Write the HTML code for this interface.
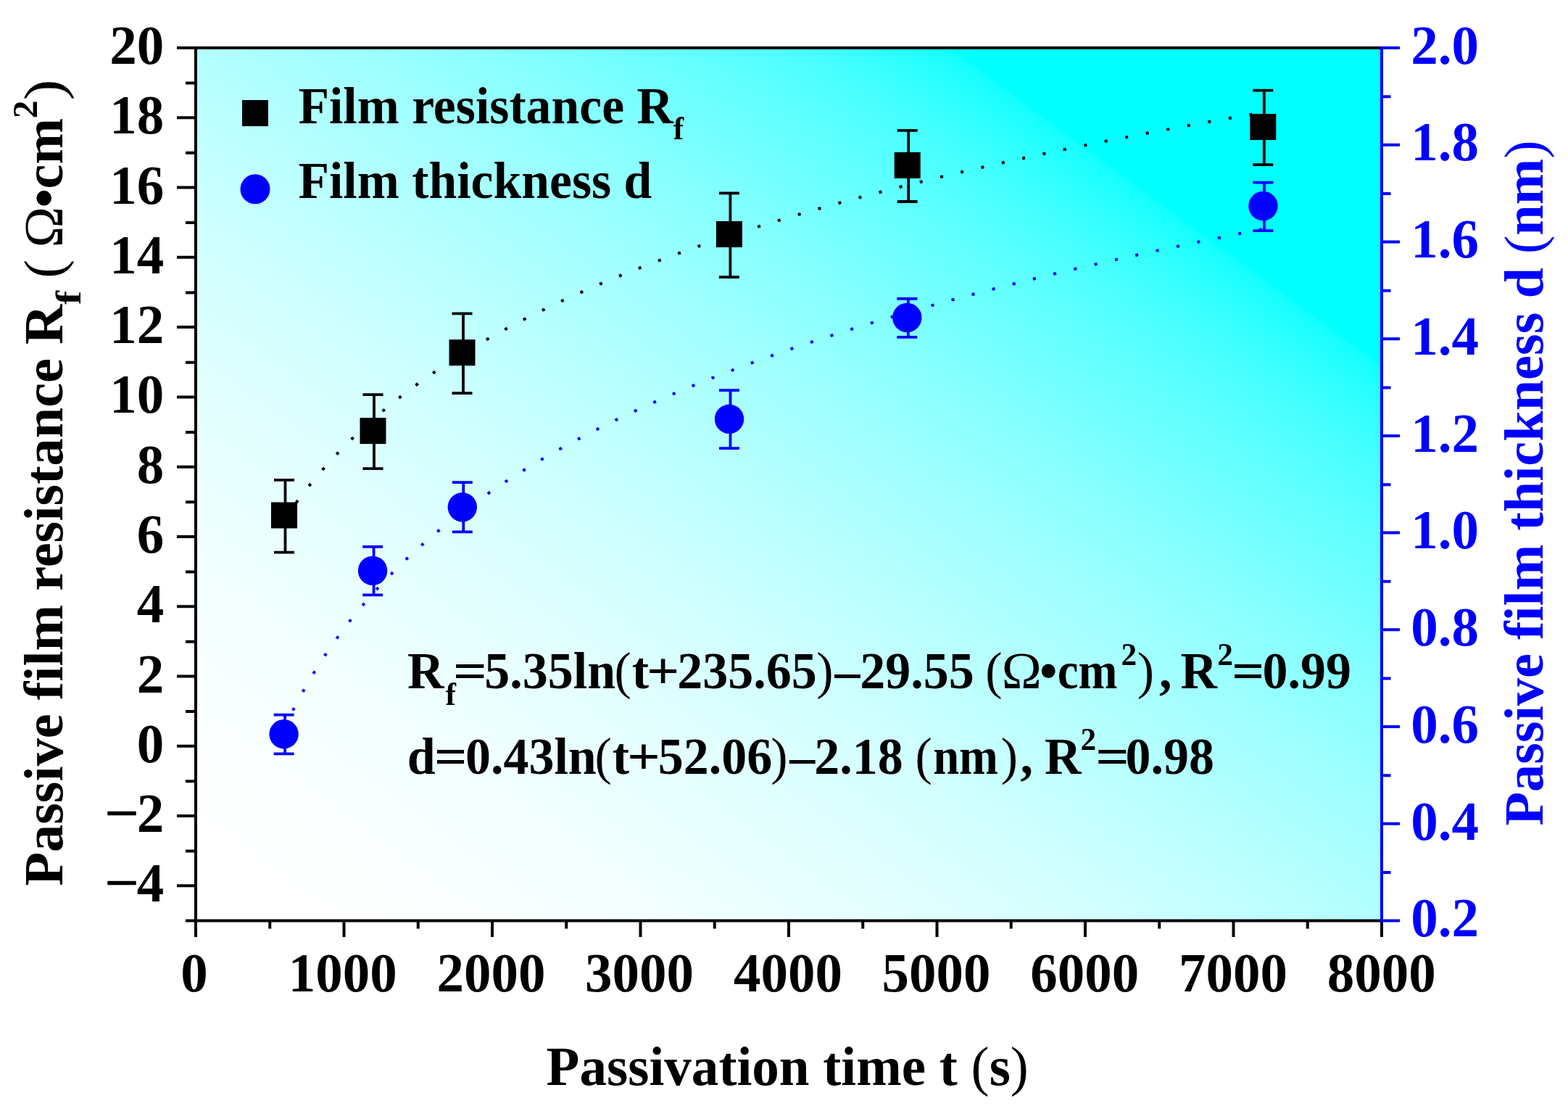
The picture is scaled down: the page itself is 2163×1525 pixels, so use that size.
<!DOCTYPE html>
<html lang="en"><head><meta charset="utf-8"><title>Passive film resistance and thickness vs passivation time</title>
<style>html,body{margin:0;padding:0;background:#fff}body{width:2163px;height:1525px;overflow:hidden}svg{display:block}text{font-family:'Liberation Serif',serif;font-weight:bold}</style>
</head><body>
<svg width="2163" height="1525" viewBox="0 0 2163 1525" role="img" aria-label="Passive film resistance and thickness versus passivation time">
<defs><linearGradient id="bg" gradientUnits="userSpaceOnUse" x1="513.54" y1="1448.66" x2="1662.46" y2="-113.16">
<stop offset="0.0000" stop-color="rgb(255,255,255)"/>
<stop offset="0.0400" stop-color="rgb(255,255,255)"/>
<stop offset="0.1000" stop-color="rgb(252,255,255)"/>
<stop offset="0.1410" stop-color="rgb(248,255,255)"/>
<stop offset="0.2000" stop-color="rgb(242,255,255)"/>
<stop offset="0.2640" stop-color="rgb(233,255,255)"/>
<stop offset="0.3200" stop-color="rgb(224,255,255)"/>
<stop offset="0.3860" stop-color="rgb(210,255,255)"/>
<stop offset="0.4500" stop-color="rgb(193,255,255)"/>
<stop offset="0.5040" stop-color="rgb(178,255,255)"/>
<stop offset="0.5600" stop-color="rgb(160,255,255)"/>
<stop offset="0.6250" stop-color="rgb(136,255,255)"/>
<stop offset="0.6740" stop-color="rgb(114,255,255)"/>
<stop offset="0.7225" stop-color="rgb(91,255,255)"/>
<stop offset="0.7635" stop-color="rgb(68,255,255)"/>
<stop offset="0.7780" stop-color="rgb(56,255,255)"/>
<stop offset="0.7970" stop-color="rgb(40,255,255)"/>
<stop offset="0.8090" stop-color="rgb(28,255,255)"/>
<stop offset="0.8165" stop-color="rgb(18,255,255)"/>
<stop offset="0.8185" stop-color="rgb(0,255,255)"/>
<stop offset="1.0000" stop-color="rgb(0,255,255)"/>
</linearGradient></defs>
<rect x="0" y="0" width="2163" height="1525" fill="#fff"/>
<rect x="270.0" y="66.0" width="1636.0" height="1203.5" fill="url(#bg)"/>
<path d="M392.7 715.9 L396.1 710.9 L399.5 706.0 L402.8 701.2 L406.2 696.5 L409.6 691.8 L413.0 687.3 L416.4 682.8 L419.8 678.4 L423.1 674.0 L426.5 669.8 L429.9 665.6 L433.3 661.5 L436.7 657.4 L440.1 653.4 L443.4 649.5 L446.8 645.6 L450.2 641.8 L453.6 638.0 L457.0 634.3 L460.4 630.7 L463.7 627.1 L467.1 623.5 L470.5 620.0 L473.9 616.6 L477.3 613.2 L480.7 609.8 L484.0 606.5 L487.4 603.2 L490.8 599.9 L494.2 596.7 L497.6 593.6 L500.9 590.5 L504.3 587.4 L507.7 584.3 L511.1 581.3 L514.5 578.3 L517.9 575.4 L521.2 572.5 L524.6 569.6 L528.0 566.8 L531.4 563.9 L534.8 561.2 L538.2 558.4 L541.5 555.7 L544.9 553.0 L548.3 550.3 L551.7 547.7 L555.1 545.0 L558.5 542.5 L561.8 539.9 L565.2 537.4 L568.6 534.8 L572.0 532.4 L575.4 529.9 L578.7 527.4 L582.1 525.0 L585.5 522.6 L588.9 520.3 L592.3 517.9 L595.7 515.6 L599.0 513.3 L602.4 511.0 L605.8 508.7 L609.2 506.5 L612.6 504.2 L616.0 502.0 L619.3 499.8 L622.7 497.6 L626.1 495.5 L629.5 493.4 L632.9 491.2 L636.3 489.1 L639.6 487.0 L643.0 485.0 L646.4 482.9 L649.8 480.9 L653.2 478.9 L656.6 476.9 L659.9 474.9 L663.3 472.9 L666.7 470.9 L670.1 469.0 L673.5 467.1 L676.8 465.2 L680.2 463.2 L683.6 461.4 L687.0 459.5 L690.4 457.6 L693.8 455.8 L697.1 453.9 L700.5 452.1 L703.9 450.3 L707.3 448.5 L710.7 446.7 L714.1 445.0 L717.4 443.2 L720.8 441.5 L724.2 439.7 L727.6 438.0 L731.0 436.3 L734.4 434.6 L737.7 432.9 L741.1 431.2 L744.5 429.6 L747.9 427.9 L751.3 426.3 L754.6 424.6 L758.0 423.0 L761.4 421.4 L764.8 419.8 L768.2 418.2 L771.6 416.6 L774.9 415.0 L778.3 413.5 L781.7 411.9 L785.1 410.4 L788.5 408.8 L791.9 407.3 L795.2 405.8 L798.6 404.3 L802.0 402.8 L805.4 401.3 L808.8 399.8 L812.2 398.3 L815.5 396.8 L818.9 395.4 L822.3 393.9 L825.7 392.5 L829.1 391.0 L832.5 389.6 L835.8 388.2 L839.2 386.8 L842.6 385.4 L846.0 384.0 L849.4 382.6 L852.7 381.2 L856.1 379.8 L859.5 378.5 L862.9 377.1 L866.3 375.8 L869.7 374.4 L873.0 373.1 L876.4 371.7 L879.8 370.4 L883.2 369.1 L886.6 367.8 L890.0 366.5 L893.3 365.2 L896.7 363.9 L900.1 362.6 L903.5 361.3 L906.9 360.1 L910.3 358.8 L913.6 357.5 L917.0 356.3 L920.4 355.0 L923.8 353.8 L927.2 352.6 L930.6 351.3 L933.9 350.1 L937.3 348.9 L940.7 347.7 L944.1 346.5 L947.5 345.3 L950.8 344.1 L954.2 342.9 L957.6 341.7 L961.0 340.5 L964.4 339.3 L967.8 338.2 L971.1 337.0 L974.5 335.9 L977.9 334.7 L981.3 333.6 L984.7 332.4 L988.1 331.3 L991.4 330.1 L994.8 329.0 L998.2 327.9 L1001.6 326.8 L1005.0 325.7 L1008.4 324.6 L1011.7 323.5 L1015.1 322.4 L1018.5 321.3 L1021.9 320.2 L1025.3 319.1 L1028.6 318.0 L1032.0 316.9 L1035.4 315.9 L1038.8 314.8 L1042.2 313.7 L1045.6 312.7 L1048.9 311.6 L1052.3 310.6 L1055.7 309.5 L1059.1 308.5 L1062.5 307.5 L1065.9 306.4 L1069.2 305.4 L1072.6 304.4 L1076.0 303.3 L1079.4 302.3 L1082.8 301.3 L1086.2 300.3 L1089.5 299.3 L1092.9 298.3 L1096.3 297.3 L1099.7 296.3 L1103.1 295.3 L1106.5 294.3 L1109.8 293.4 L1113.2 292.4 L1116.6 291.4 L1120.0 290.4 L1123.4 289.5 L1126.7 288.5 L1130.1 287.5 L1133.5 286.6 L1136.9 285.6 L1140.3 284.7 L1143.7 283.7 L1147.0 282.8 L1150.4 281.9 L1153.8 280.9 L1157.2 280.0 L1160.6 279.1 L1164.0 278.1 L1167.3 277.2 L1170.7 276.3 L1174.1 275.4 L1177.5 274.5 L1180.9 273.6 L1184.3 272.7 L1187.6 271.8 L1191.0 270.9 L1194.4 270.0 L1197.8 269.1 L1201.2 268.2 L1204.5 267.3 L1207.9 266.4 L1211.3 265.5 L1214.7 264.7 L1218.1 263.8 L1221.5 262.9 L1224.8 262.0 L1228.2 261.2 L1231.6 260.3 L1235.0 259.5 L1238.4 258.6 L1241.8 257.7 L1245.1 256.9 L1248.5 256.0 L1251.9 255.2 L1255.3 254.4 L1258.7 253.5 L1262.1 252.7 L1265.4 251.8 L1268.8 251.0 L1272.2 250.2 L1275.6 249.3 L1279.0 248.5 L1282.4 247.7 L1285.7 246.9 L1289.1 246.1 L1292.5 245.3 L1295.9 244.4 L1299.3 243.6 L1302.6 242.8 L1306.0 242.0 L1309.4 241.2 L1312.8 240.4 L1316.2 239.6 L1319.6 238.8 L1322.9 238.0 L1326.3 237.3 L1329.7 236.5 L1333.1 235.7 L1336.5 234.9 L1339.9 234.1 L1343.2 233.3 L1346.6 232.6 L1350.0 231.8 L1353.4 231.0 L1356.8 230.3 L1360.2 229.5 L1363.5 228.7 L1366.9 228.0 L1370.3 227.2 L1373.7 226.5 L1377.1 225.7 L1380.5 224.9 L1383.8 224.2 L1387.2 223.4 L1390.6 222.7 L1394.0 222.0 L1397.4 221.2 L1400.7 220.5 L1404.1 219.7 L1407.5 219.0 L1410.9 218.3 L1414.3 217.5 L1417.7 216.8 L1421.0 216.1 L1424.4 215.4 L1427.8 214.6 L1431.2 213.9 L1434.6 213.2 L1438.0 212.5 L1441.3 211.8 L1444.7 211.1 L1448.1 210.3 L1451.5 209.6 L1454.9 208.9 L1458.3 208.2 L1461.6 207.5 L1465.0 206.8 L1468.4 206.1 L1471.8 205.4 L1475.2 204.7 L1478.5 204.0 L1481.9 203.3 L1485.3 202.7 L1488.7 202.0 L1492.1 201.3 L1495.5 200.6 L1498.8 199.9 L1502.2 199.2 L1505.6 198.6 L1509.0 197.9 L1512.4 197.2 L1515.8 196.5 L1519.1 195.9 L1522.5 195.2 L1525.9 194.5 L1529.3 193.9 L1532.7 193.2 L1536.1 192.5 L1539.4 191.9 L1542.8 191.2 L1546.2 190.5 L1549.6 189.9 L1553.0 189.2 L1556.4 188.6 L1559.7 187.9 L1563.1 187.3 L1566.5 186.6 L1569.9 186.0 L1573.3 185.3 L1576.6 184.7 L1580.0 184.1 L1583.4 183.4 L1586.8 182.8 L1590.2 182.1 L1593.6 181.5 L1596.9 180.9 L1600.3 180.2 L1603.7 179.6 L1607.1 179.0 L1610.5 178.4 L1613.9 177.7 L1617.2 177.1 L1620.6 176.5 L1624.0 175.9 L1627.4 175.2 L1630.8 174.6 L1634.2 174.0 L1637.5 173.4 L1640.9 172.8 L1644.3 172.2 L1647.7 171.6 L1651.1 170.9 L1654.4 170.3 L1657.8 169.7 L1661.2 169.1 L1664.6 168.5 L1668.0 167.9 L1671.4 167.3 L1674.7 166.7 L1678.1 166.1 L1681.5 165.5 L1684.9 164.9 L1688.3 164.3 L1691.7 163.7 L1695.0 163.1 L1698.4 162.6 L1701.8 162.0 L1705.2 161.4 L1708.6 160.8 L1712.0 160.2 L1715.3 159.6 L1718.7 159.0 L1722.1 158.5 L1725.5 157.9 L1728.9 157.3 L1732.3 156.7 L1735.6 156.2 L1739.0 155.6 L1742.4 155.0" fill="none" stroke="#000" stroke-width="4" stroke-linecap="butt" stroke-dasharray="4 25.01" stroke-dashoffset="1.4"/>
<path d="M392.7 1002.8 L396.1 995.7 L399.5 988.7 L402.8 982.0 L406.2 975.3 L409.6 968.9 L413.0 962.6 L416.4 956.4 L419.8 950.3 L423.1 944.4 L426.5 938.6 L429.9 932.9 L433.3 927.3 L436.7 921.8 L440.1 916.5 L443.4 911.2 L446.8 906.0 L450.2 900.9 L453.6 895.9 L457.0 891.0 L460.4 886.2 L463.7 881.5 L467.1 876.8 L470.5 872.2 L473.9 867.7 L477.3 863.2 L480.7 858.8 L484.0 854.5 L487.4 850.3 L490.8 846.1 L494.2 841.9 L497.6 837.9 L500.9 833.9 L504.3 829.9 L507.7 826.0 L511.1 822.1 L514.5 818.3 L517.9 814.6 L521.2 810.9 L524.6 807.2 L528.0 803.6 L531.4 800.1 L534.8 796.5 L538.2 793.1 L541.5 789.6 L544.9 786.2 L548.3 782.9 L551.7 779.6 L555.1 776.3 L558.5 773.0 L561.8 769.8 L565.2 766.7 L568.6 763.5 L572.0 760.4 L575.4 757.4 L578.7 754.3 L582.1 751.3 L585.5 748.4 L588.9 745.4 L592.3 742.5 L595.7 739.6 L599.0 736.8 L602.4 733.9 L605.8 731.1 L609.2 728.4 L612.6 725.6 L616.0 722.9 L619.3 720.2 L622.7 717.5 L626.1 714.9 L629.5 712.3 L632.9 709.7 L636.3 707.1 L639.6 704.6 L643.0 702.0 L646.4 699.5 L649.8 697.1 L653.2 694.6 L656.6 692.2 L659.9 689.7 L663.3 687.3 L666.7 685.0 L670.1 682.6 L673.5 680.3 L676.8 677.9 L680.2 675.6 L683.6 673.4 L687.0 671.1 L690.4 668.8 L693.8 666.6 L697.1 664.4 L700.5 662.2 L703.9 660.0 L707.3 657.9 L710.7 655.7 L714.1 653.6 L717.4 651.5 L720.8 649.4 L724.2 647.3 L727.6 645.2 L731.0 643.2 L734.4 641.1 L737.7 639.1 L741.1 637.1 L744.5 635.1 L747.9 633.1 L751.3 631.1 L754.6 629.2 L758.0 627.2 L761.4 625.3 L764.8 623.4 L768.2 621.5 L771.6 619.6 L774.9 617.7 L778.3 615.9 L781.7 614.0 L785.1 612.2 L788.5 610.3 L791.9 608.5 L795.2 606.7 L798.6 604.9 L802.0 603.1 L805.4 601.3 L808.8 599.6 L812.2 597.8 L815.5 596.1 L818.9 594.4 L822.3 592.6 L825.7 590.9 L829.1 589.2 L832.5 587.5 L835.8 585.9 L839.2 584.2 L842.6 582.5 L846.0 580.9 L849.4 579.2 L852.7 577.6 L856.1 576.0 L859.5 574.4 L862.9 572.8 L866.3 571.2 L869.7 569.6 L873.0 568.0 L876.4 566.4 L879.8 564.9 L883.2 563.3 L886.6 561.8 L890.0 560.2 L893.3 558.7 L896.7 557.2 L900.1 555.7 L903.5 554.2 L906.9 552.7 L910.3 551.2 L913.6 549.7 L917.0 548.2 L920.4 546.8 L923.8 545.3 L927.2 543.9 L930.6 542.4 L933.9 541.0 L937.3 539.6 L940.7 538.1 L944.1 536.7 L947.5 535.3 L950.8 533.9 L954.2 532.5 L957.6 531.1 L961.0 529.8 L964.4 528.4 L967.8 527.0 L971.1 525.7 L974.5 524.3 L977.9 522.9 L981.3 521.6 L984.7 520.3 L988.1 518.9 L991.4 517.6 L994.8 516.3 L998.2 515.0 L1001.6 513.7 L1005.0 512.4 L1008.4 511.1 L1011.7 509.8 L1015.1 508.5 L1018.5 507.3 L1021.9 506.0 L1025.3 504.7 L1028.6 503.5 L1032.0 502.2 L1035.4 501.0 L1038.8 499.7 L1042.2 498.5 L1045.6 497.2 L1048.9 496.0 L1052.3 494.8 L1055.7 493.6 L1059.1 492.4 L1062.5 491.2 L1065.9 490.0 L1069.2 488.8 L1072.6 487.6 L1076.0 486.4 L1079.4 485.2 L1082.8 484.0 L1086.2 482.9 L1089.5 481.7 L1092.9 480.5 L1096.3 479.4 L1099.7 478.2 L1103.1 477.1 L1106.5 475.9 L1109.8 474.8 L1113.2 473.7 L1116.6 472.5 L1120.0 471.4 L1123.4 470.3 L1126.7 469.2 L1130.1 468.1 L1133.5 467.0 L1136.9 465.9 L1140.3 464.8 L1143.7 463.7 L1147.0 462.6 L1150.4 461.5 L1153.8 460.4 L1157.2 459.3 L1160.6 458.2 L1164.0 457.2 L1167.3 456.1 L1170.7 455.0 L1174.1 454.0 L1177.5 452.9 L1180.9 451.9 L1184.3 450.8 L1187.6 449.8 L1191.0 448.8 L1194.4 447.7 L1197.8 446.7 L1201.2 445.7 L1204.5 444.6 L1207.9 443.6 L1211.3 442.6 L1214.7 441.6 L1218.1 440.6 L1221.5 439.6 L1224.8 438.6 L1228.2 437.6 L1231.6 436.6 L1235.0 435.6 L1238.4 434.6 L1241.8 433.6 L1245.1 432.6 L1248.5 431.6 L1251.9 430.7 L1255.3 429.7 L1258.7 428.7 L1262.1 427.8 L1265.4 426.8 L1268.8 425.8 L1272.2 424.9 L1275.6 423.9 L1279.0 423.0 L1282.4 422.0 L1285.7 421.1 L1289.1 420.1 L1292.5 419.2 L1295.9 418.3 L1299.3 417.3 L1302.6 416.4 L1306.0 415.5 L1309.4 414.6 L1312.8 413.6 L1316.2 412.7 L1319.6 411.8 L1322.9 410.9 L1326.3 410.0 L1329.7 409.1 L1333.1 408.2 L1336.5 407.3 L1339.9 406.4 L1343.2 405.5 L1346.6 404.6 L1350.0 403.7 L1353.4 402.8 L1356.8 402.0 L1360.2 401.1 L1363.5 400.2 L1366.9 399.3 L1370.3 398.5 L1373.7 397.6 L1377.1 396.7 L1380.5 395.9 L1383.8 395.0 L1387.2 394.1 L1390.6 393.3 L1394.0 392.4 L1397.4 391.6 L1400.7 390.7 L1404.1 389.9 L1407.5 389.0 L1410.9 388.2 L1414.3 387.4 L1417.7 386.5 L1421.0 385.7 L1424.4 384.9 L1427.8 384.0 L1431.2 383.2 L1434.6 382.4 L1438.0 381.6 L1441.3 380.7 L1444.7 379.9 L1448.1 379.1 L1451.5 378.3 L1454.9 377.5 L1458.3 376.7 L1461.6 375.9 L1465.0 375.1 L1468.4 374.3 L1471.8 373.5 L1475.2 372.7 L1478.5 371.9 L1481.9 371.1 L1485.3 370.3 L1488.7 369.5 L1492.1 368.7 L1495.5 368.0 L1498.8 367.2 L1502.2 366.4 L1505.6 365.6 L1509.0 364.8 L1512.4 364.1 L1515.8 363.3 L1519.1 362.5 L1522.5 361.8 L1525.9 361.0 L1529.3 360.2 L1532.7 359.5 L1536.1 358.7 L1539.4 358.0 L1542.8 357.2 L1546.2 356.5 L1549.6 355.7 L1553.0 355.0 L1556.4 354.2 L1559.7 353.5 L1563.1 352.7 L1566.5 352.0 L1569.9 351.2 L1573.3 350.5 L1576.6 349.8 L1580.0 349.0 L1583.4 348.3 L1586.8 347.6 L1590.2 346.8 L1593.6 346.1 L1596.9 345.4 L1600.3 344.7 L1603.7 344.0 L1607.1 343.2 L1610.5 342.5 L1613.9 341.8 L1617.2 341.1 L1620.6 340.4 L1624.0 339.7 L1627.4 339.0 L1630.8 338.3 L1634.2 337.6 L1637.5 336.9 L1640.9 336.2 L1644.3 335.5 L1647.7 334.8 L1651.1 334.1 L1654.4 333.4 L1657.8 332.7 L1661.2 332.0 L1664.6 331.3 L1668.0 330.6 L1671.4 329.9 L1674.7 329.2 L1678.1 328.6 L1681.5 327.9 L1684.9 327.2 L1688.3 326.5 L1691.7 325.8 L1695.0 325.2 L1698.4 324.5 L1701.8 323.8 L1705.2 323.2 L1708.6 322.5 L1712.0 321.8 L1715.3 321.2 L1718.7 320.5 L1722.1 319.8 L1725.5 319.2 L1728.9 318.5 L1732.3 317.9 L1735.6 317.2 L1739.0 316.5 L1742.4 315.9" fill="none" stroke="#0000ff" stroke-width="4" stroke-linecap="butt" stroke-dasharray="4 25.02" stroke-dashoffset="3.25"/>
<g stroke="#000" stroke-width="3.8" fill="#000">
<path d="M393.5 661.8V761.6M378.0 661.8H406.0M378.0 761.6H406.0" fill="none"/>
<rect x="374.0" y="692.5" width="36" height="36" stroke="none"/>
<path d="M516.0 544.1V646.2M500.5 544.1H528.5M500.5 646.2H528.5" fill="none"/>
<rect x="496.5" y="576.1" width="36" height="36" stroke="none"/>
<path d="M639.0 432.3V542.1M623.5 432.3H651.5M623.5 542.1H651.5" fill="none"/>
<rect x="619.5" y="468.2" width="36" height="36" stroke="none"/>
<path d="M1007.4 266.3V382.1M991.9 266.3H1019.9M991.9 382.1H1019.9" fill="none"/>
<rect x="987.9" y="305.0" width="36" height="36" stroke="none"/>
<path d="M1253.2 179.8V278.0M1237.7 179.8H1265.7M1237.7 278.0H1265.7" fill="none"/>
<rect x="1233.7" y="209.9" width="36" height="36" stroke="none"/>
<path d="M1743.8 124.6V227.2M1728.3 124.6H1756.3M1728.3 227.2H1756.3" fill="none"/>
<rect x="1724.3" y="157.0" width="36" height="36" stroke="none"/>
</g>
<g stroke="#0000ff" stroke-width="3.8" fill="#0000ff">
<path d="M393.1 985.7V1039.3M377.6 985.7H405.6M377.6 1039.3H405.6" fill="none"/>
<circle cx="391.6" cy="1012.2" r="20.2" stroke="none"/>
<path d="M515.6 753.9V820.3M500.1 753.9H528.1M500.1 820.3H528.1" fill="none"/>
<circle cx="514.1" cy="786.9" r="20.2" stroke="none"/>
<path d="M639.3 665.2V733.4M623.8 665.2H651.8M623.8 733.4H651.8" fill="none"/>
<circle cx="637.8" cy="699.3" r="20.2" stroke="none"/>
<path d="M1007.5 538.1V618.1M992.0 538.1H1020.0M992.0 618.1H1020.0" fill="none"/>
<circle cx="1006.0" cy="577.8" r="20.2" stroke="none"/>
<path d="M1252.8 411.8V464.9M1237.3 411.8H1265.3M1237.3 464.9H1265.3" fill="none"/>
<circle cx="1251.3" cy="438.0" r="20.2" stroke="none"/>
<path d="M1743.9 251.7V318.1M1728.4 251.7H1756.4M1728.4 318.1H1756.4" fill="none"/>
<circle cx="1742.4" cy="284.0" r="20.2" stroke="none"/>
</g>
<g stroke="#000" stroke-width="4" fill="none">
<path d="M244.0 66.0H1906.0"/>
<path d="M256.0 1269.5H1906.0"/>
<path d="M270.0 64.0V1292.0"/>
<path d="M244.0 1221.36H270.0M256.0 1173.62H270.0M244.0 1125.08H270.0M256.0 1077.34H270.0M244.0 1028.80H270.0M256.0 981.06H270.0M244.0 932.52H270.0M256.0 884.78H270.0M244.0 836.24H270.0M256.0 788.50H270.0M244.0 739.96H270.0M256.0 692.22H270.0M244.0 643.68H270.0M256.0 595.94H270.0M244.0 547.40H270.0M256.0 499.66H270.0M244.0 451.12H270.0M256.0 403.38H270.0M244.0 354.84H270.0M256.0 307.10H270.0M244.0 258.56H270.0M256.0 210.82H270.0M244.0 162.28H270.0M256.0 114.54H270.0"/>
<path d="M372.25 1269.5V1280.5M474.50 1269.5V1292.0M576.75 1269.5V1280.5M679.00 1269.5V1292.0M781.25 1269.5V1280.5M883.50 1269.5V1292.0M985.75 1269.5V1280.5M1088.00 1269.5V1292.0M1190.25 1269.5V1280.5M1292.50 1269.5V1292.0M1394.75 1269.5V1280.5M1497.00 1269.5V1292.0M1599.25 1269.5V1280.5M1701.50 1269.5V1292.0M1803.75 1269.5V1280.5M1906.00 1269.5V1292.0"/>
</g>
<g stroke="#0000ff" stroke-width="4" fill="none">
<path d="M1906.0 64.0V1271.5"/>
<path d="M1906.0 1269.50H1931.0M1906.0 1203.04H1918.5M1906.0 1135.78H1931.0M1906.0 1069.32H1918.5M1906.0 1002.06H1931.0M1906.0 935.59H1918.5M1906.0 868.33H1931.0M1906.0 801.87H1918.5M1906.0 734.61H1931.0M1906.0 668.15H1918.5M1906.0 600.89H1931.0M1906.0 534.43H1918.5M1906.0 467.17H1931.0M1906.0 400.71H1918.5M1906.0 333.44H1931.0M1906.0 266.98H1918.5M1906.0 199.72H1931.0M1906.0 133.26H1918.5M1906.0 66.00H1931.0"/>
</g>
<g font-size="75" fill="#000" text-anchor="end">
<text transform="translate(0 1243.4) scale(1 1.027)" text-anchor="start"><tspan x="143.82" y="0.00" textLength="48.42" lengthAdjust="spacingAndGlyphs">−</tspan><tspan x="188.80" y="0.00">4</tspan></text>
<text transform="translate(0 1147.1) scale(1 1.027)" text-anchor="start"><tspan x="143.82" y="0.00" textLength="48.42" lengthAdjust="spacingAndGlyphs">−</tspan><tspan x="188.80" y="0.00">2</tspan></text>
<text transform="translate(226.3 1050.8) scale(1 1.027)">0</text>
<text transform="translate(226.3 954.5) scale(1 1.027)">2</text>
<text transform="translate(226.3 858.2) scale(1 1.027)">4</text>
<text transform="translate(226.3 762.0) scale(1 1.027)">6</text>
<text transform="translate(226.3 665.7) scale(1 1.027)">8</text>
<text transform="translate(226.3 569.4) scale(1 1.027)">10</text>
<text transform="translate(226.3 473.1) scale(1 1.027)">12</text>
<text transform="translate(226.3 376.8) scale(1 1.027)">14</text>
<text transform="translate(226.3 280.6) scale(1 1.027)">16</text>
<text transform="translate(226.3 184.3) scale(1 1.027)">18</text>
<text transform="translate(226.3 88.0) scale(1 1.027)">20</text>
</g>
<g font-size="75" fill="#000" text-anchor="middle">
<text transform="translate(268.0 1367.2) scale(1 1.027)">0</text>
<text transform="translate(472.7 1367.2) scale(1 1.027)">1000</text>
<text transform="translate(677.4 1367.2) scale(1 1.027)">2000</text>
<text transform="translate(882.1 1367.2) scale(1 1.027)">3000</text>
<text transform="translate(1086.9 1367.2) scale(1 1.027)">4000</text>
<text transform="translate(1291.6 1367.2) scale(1 1.027)">5000</text>
<text transform="translate(1496.3 1367.2) scale(1 1.027)">6000</text>
<text transform="translate(1701.0 1367.2) scale(1 1.027)">7000</text>
<text transform="translate(1905.7 1367.2) scale(1 1.027)">8000</text>
</g>
<g font-size="75" fill="#0000ff" text-anchor="start">
<text transform="translate(1946.2 1291.2) scale(1 1.027)">0.2</text>
<text transform="translate(1946.2 1157.5) scale(1 1.027)">0.4</text>
<text transform="translate(1946.2 1023.8) scale(1 1.027)">0.6</text>
<text transform="translate(1946.2 890.0) scale(1 1.027)">0.8</text>
<text transform="translate(1946.2 756.3) scale(1 1.027)">1.0</text>
<text transform="translate(1946.2 622.6) scale(1 1.027)">1.2</text>
<text transform="translate(1946.2 488.9) scale(1 1.027)">1.4</text>
<text transform="translate(1946.2 355.1) scale(1 1.027)">1.6</text>
<text transform="translate(1946.2 221.4) scale(1 1.027)">1.8</text>
<text transform="translate(1946.2 87.7) scale(1 1.027)">2.0</text>
</g>
<text transform="translate(753.60 1495.60) scale(1.0 1.023)" font-size="75.1" fill="#000" xml:space="preserve"><tspan x="0.00" y="0.00">Passivation time t </tspan><tspan y="0.00" font-weight="normal">(</tspan><tspan y="0.00">s</tspan><tspan y="0.00" font-weight="normal">)</tspan></text>
<text transform="translate(86.30 1221.60) rotate(-90) scale(1.016 1.0107)" font-size="75.1" fill="#000" xml:space="preserve"><tspan x="0.00" y="0.00">Passive film resistance </tspan><tspan x="734.75" y="0.00">R</tspan><tspan x="788.97" y="24.24" font-size="48.81" textLength="18.64" lengthAdjust="spacingAndGlyphs">f</tspan><tspan y="0.00"> </tspan><tspan x="824.96" y="0.00" font-weight="normal">(</tspan><tspan y="0.00"> </tspan><tspan x="866.20" y="0.00" font-weight="normal">Ω</tspan><tspan x="920.46" y="0.00">•</tspan><tspan x="946.06" y="0.00">cm</tspan><tspan x="1041.76" y="-34.73" font-size="48.81">2</tspan><tspan x="1066.17" y="0.00" font-weight="normal" textLength="28.31" lengthAdjust="spacingAndGlyphs">)</tspan></text>
<text transform="translate(2127.70 1138.50) rotate(-90) scale(1.016 1.0107)" font-size="75.1" fill="#0000ff" xml:space="preserve"><tspan x="0.00" y="0.00">Passive film thickness d </tspan><tspan y="0.00" font-weight="normal">(</tspan><tspan y="0.00">nm</tspan><tspan y="0.00" font-weight="normal">)</tspan></text>
<rect x="334.0" y="138.0" width="36" height="36" fill="#000"/>
<circle cx="352" cy="260.8" r="20.5" fill="#0000ff"/>
<text transform="translate(0.00 170.00) scale(1.0 1.023)" font-size="69.7" fill="#000" xml:space="preserve"><tspan x="411.40" y="0.00">Film resistance R</tspan><tspan y="21.80" font-size="43.21">f</tspan></text>
<text transform="translate(0.00 273.30) scale(1.0 1.023)" font-size="69.7" fill="#000" xml:space="preserve"><tspan x="411.40" y="0.00">Film thickness d</tspan></text>
<text transform="translate(0.00 949.30) scale(1.0 1.023)" font-size="70" fill="#000" xml:space="preserve"><tspan x="561.90" y="0.00">R</tspan><tspan x="614.58" y="21.80" font-size="43.40">f</tspan><tspan x="625.11" y="0.00" textLength="46.83" lengthAdjust="spacingAndGlyphs">=</tspan><tspan x="668.30" y="0.00">5.35ln</tspan><tspan x="847.42" y="0.00" font-weight="normal">(</tspan><tspan x="871.87" y="0.00">t</tspan><tspan x="891.91" y="0.00" textLength="45.23" lengthAdjust="spacingAndGlyphs">+</tspan><tspan x="934.36" y="0.00">235.65</tspan><tspan x="1126.34" y="0.00" font-weight="normal">)</tspan><tspan x="1151.58" y="0.00">–</tspan><tspan x="1186.16" y="0.00">29.55 </tspan><tspan x="1359.32" y="0.00" font-weight="normal">(</tspan><tspan x="1381.66" y="0.00" font-weight="normal" textLength="55.19" lengthAdjust="spacingAndGlyphs">Ω</tspan><tspan x="1433.93" y="0.00">•</tspan><tspan x="1458.79" y="0.00" textLength="82.72" lengthAdjust="spacingAndGlyphs">cm</tspan><tspan x="1546.58" y="-31.80" font-size="43.40">2</tspan><tspan x="1568.74" y="0.00" font-weight="normal">)</tspan><tspan x="1598.98" y="0.00">, </tspan><tspan x="1628.50" y="0.00">R</tspan><tspan x="1679.28" y="-31.80" font-size="43.40">2</tspan><tspan x="1699.26" y="0.00" textLength="45.11" lengthAdjust="spacingAndGlyphs">=</tspan><tspan x="1741.43" y="0.00">0.99</tspan></text>
<text transform="translate(0.00 1066.70) scale(1.0 1.023)" font-size="70" fill="#000" xml:space="preserve"><tspan x="561.86" y="0.00">d</tspan><tspan x="599.02" y="0.00" textLength="45.48" lengthAdjust="spacingAndGlyphs">=</tspan><tspan x="641.93" y="0.00">0.43ln</tspan><tspan x="820.52" y="0.00" font-weight="normal">(</tspan><tspan x="844.87" y="0.00">t</tspan><tspan x="865.06" y="0.00" textLength="45.85" lengthAdjust="spacingAndGlyphs">+</tspan><tspan x="907.80" y="0.00">52.06</tspan><tspan x="1063.14" y="0.00" font-weight="normal">)</tspan><tspan x="1089.18" y="0.00">–</tspan><tspan x="1123.16" y="0.00">2.18 </tspan><tspan x="1262.52" y="0.00" font-weight="normal">(</tspan><tspan x="1287.16" y="0.00" textLength="89.84" lengthAdjust="spacingAndGlyphs">nm</tspan><tspan x="1380.64" y="0.00" font-weight="normal">)</tspan><tspan x="1407.48" y="0.00">, </tspan><tspan x="1440.90" y="0.00">R</tspan><tspan x="1490.58" y="-31.80" font-size="43.40">2</tspan><tspan x="1511.23" y="0.00" textLength="46.58" lengthAdjust="spacingAndGlyphs">=</tspan><tspan x="1552.63" y="0.00">0.98</tspan></text>
</svg></body></html>
